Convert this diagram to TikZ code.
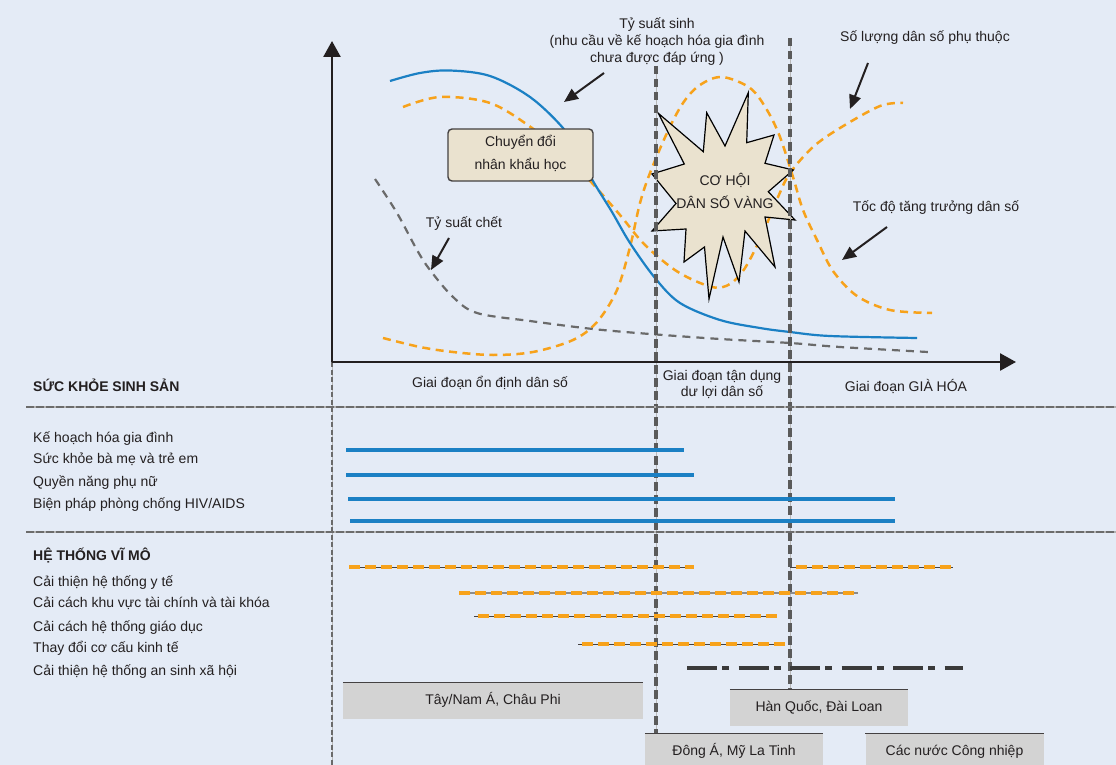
\documentclass[tikz,border=0pt]{standalone}
\usepackage{fontspec}
\setmainfont{Liberation Sans}
\usetikzlibrary{arrows.meta}
\definecolor{bgc}{HTML}{E4EBF6}
\definecolor{txtc}{HTML}{231F20}
\definecolor{bluec}{HTML}{1B80C4}
\definecolor{orangec}{HTML}{F7A21B}
\definecolor{beigec}{HTML}{EAE2CF}
\definecolor{boxgrayc}{HTML}{D3D3D3}
\definecolor{vdarkc}{HTML}{5A5A5A}
\definecolor{deathc}{HTML}{6A6A6A}
\definecolor{dashdotc}{HTML}{3A3A3A}
\begin{document}
\begin{tikzpicture}[x=1pt,y=-1pt,
  font=\fontsize{14}{17}\selectfont,
  lbl/.style={text=txtc, inner sep=0pt, text height=10pt, text depth=3pt},
  leftlbl/.style={lbl, anchor=west},
  boldlbl/.style={lbl, anchor=west, font=\fontsize{14}{17}\selectfont\bfseries},
  axisline/.style={draw=txtc, line width=2.6pt, -{Triangle[length=16pt,width=17pt]}},
  pointer/.style={draw=txtc, line width=2pt, -{Triangle[length=14pt,width=12pt]}},
  bluecurve/.style={draw=bluec, line width=2.2pt},
  orangecurve/.style={draw=orangec, line width=2.5pt, dash pattern=on 8pt off 5.5pt},
  deathcurve/.style={draw=deathc, line width=2.2pt, dash pattern=on 8pt off 6pt},
  vbase/.style={draw=gray!55, line width=1pt},
  vdash/.style={draw=vdarkc, line width=4pt, dash pattern=on 8.5pt off 4.5pt},
  vdashthin/.style={draw=deathc, line width=2.6pt, dash pattern=on 5pt off 2.5pt},
  hsep/.style={draw=gray!60, line width=2pt},
  hsepdash/.style={draw=gray!85!black, line width=1.2pt, dash pattern=on 8pt off 2pt},
  bluebar/.style={draw=bluec, line width=3.2pt},
  orangebar/.style={draw=orangec, line width=4pt, dash pattern=on 11pt off 5pt},
  barbase/.style={draw=txtc!85, line width=1pt},
  barbasegray/.style={draw=gray!90, line width=2.2pt},
  dashdotbar/.style={draw=dashdotc, line width=4.5pt, dash pattern=on 30pt off 5pt on 7pt off 9.5pt},
  graybox/.style={fill=boxgrayc, inner sep=0pt, text=txtc, text height=10pt, text depth=3pt},
  beigebox/.style={fill=beigec, draw=txtc!85, line width=1.4pt, rounded corners=4pt, inner sep=0pt}
]
\fill[bgc] (0,0) rectangle (1116,765);
\useasboundingbox (0,0) rectangle (1116,765);

% ---------- curves ----------
\draw[orangecurve] plot[smooth, tension=0.55] coordinates {(383,338) (420,347) (453,352) (493,355) (533,352) (573,340) (597,322) (617,290) (630,247) (640,203) (650,173) (667,133) (683,103) (700,85) (722,77) (750,88) (767,110) (780,137) (793,177) (803,210) (817,240) (833,271) (857,296) (890,310) (932,313)};
\draw[orangecurve] plot[smooth, tension=0.55] coordinates {(403,107) (440,97) (490,103) (532,128) (565,155) (592,183) (620,215) (645,245) (678,272) (712,287) (730,284) (745,268) (762,235) (778,197) (790,173) (813,147) (840,128) (880,106) (903,103)};
\draw[deathcurve] plot[smooth, tension=0.55] coordinates {(375,179) (397,213) (417,250) (430,270) (453,297) (477,313) (530,321) (593,329) (650,334) (720,339) (790,343) (840,347) (928,352)};
\draw[bluecurve] plot[smooth, tension=0.55] coordinates {(390,81) (420,73) (450,70.5) (490,76) (530,97) (563,128) (580,155) (593,181) (612,212) (630,243) (655,278) (680,303) (720,320) (760,328) (790,332) (830,336) (917,338)};

% ---------- box and star ----------
\node[beigebox, minimum width=145pt, minimum height=52pt] (demobox) at (520.5,155) {};
\node[lbl] (demo1) at (520.5,143) {Chuyển đổi};
\node[lbl] (demo2) at (520.5,166) {nhân khẩu học};

\filldraw[fill=beigec, draw=black, line width=1.2pt, line join=miter]
 (658.3,113.3) -- (703.3,151.7) -- (706.7,112.7) -- (725,146) -- (748.3,92.7) -- (746.7,142.7)
 -- (774,135) -- (765,163.3) -- (793.3,170) -- (768.3,191.7) -- (795,220) -- (765,217)
 -- (775,267) -- (745,231) -- (739,282) -- (723,237) -- (709,299) -- (704.5,247)
 -- (684,262) -- (686,229) -- (652,231) -- (676,203.5) -- (652,174) -- (684.3,164) -- cycle;
\node[lbl] (gold1) at (725,182) {CƠ HỘI};
\node[lbl] (gold2) at (725,205) {DÂN SỐ VÀNG};

% ---------- vertical dashed lines ----------
\coordinate (v1t) at (656,66); \coordinate (v1b) at (656,734);
\coordinate (v2t) at (790,38); \coordinate (v2b) at (790,690);
\coordinate (v0t) at (332,362); \coordinate (v0b) at (332,765);
\draw[vbase] (v1t) -- (v1b);
\draw[vdash] (v1t) -- (v1b);
\draw[vbase] (v2t) -- (v2b);
\draw[vdash] (v2t) -- (v2b);
\draw[vbase] (v0t) -- (v0b);
\draw[vdashthin] (v0t) -- (v0b);

% ---------- axes ----------
\coordinate (origin) at (332,362);
\coordinate (ytop) at (332,41);
\coordinate (xend) at (1016,362);
\draw[axisline] (origin) -- (ytop);
\draw[axisline] (origin) -- (xend);

% ---------- chart labels and pointers ----------
\node[lbl] (birth1) at (657,25) {Tỷ suất sinh};
\node[lbl] (birth2) at (657,42) {(nhu cầu về kế hoạch hóa gia đình};
\node[lbl] (birth3) at (657,59) {chưa được đáp ứng )};
\node[lbl] (dep) at (925,38) {Số lượng dân số phụ thuộc};
\node[lbl] (growth) at (936,208) {Tốc độ tăng trưởng dân số};
\node[lbl] (death) at (464,224) {Tỷ suất chết};

\coordinate (aS1) at (604,73); \coordinate (aS2) at (564,102);
\coordinate (aP1) at (868,63); \coordinate (aP2) at (850,109);
\coordinate (aT1) at (887,227); \coordinate (aT2) at (842,260);
\coordinate (aC1) at (449,238); \coordinate (aC2) at (431,270);
\draw[pointer] (aS1) -- (aS2);
\draw[pointer] (aP1) -- (aP2);
\draw[pointer] (aT1) -- (aT2);
\draw[pointer] (aC1) -- (aC2);

% ---------- phase labels ----------
\node[lbl] (ph1) at (490,384) {Giai đoạn ổn định dân số};
\node[lbl] (ph2a) at (722,377) {Giai đoạn tận dụng};
\node[lbl] (ph2b) at (722,393) {dư lợi dân số};
\node[lbl] (ph3) at (906,388) {Giai đoạn GIÀ HÓA};

% ---------- separators ----------
\coordinate (s1a) at (26,407); \coordinate (s1b) at (1116,407);
\coordinate (s2a) at (26,532); \coordinate (s2b) at (1116,532);
\draw[hsep] (s1a) -- (s1b);
\draw[hsepdash] (s1a) -- (s1b);
\draw[hsep] (s2a) -- (s2b);
\draw[hsepdash] (s2a) -- (s2b);

% ---------- reproductive health ----------
\node[boldlbl] (rh) at (33,388) {SỨC KHỎE SINH SẢN};
\node[leftlbl] (rh1) at (33,439) {Kế hoạch hóa gia đình};
\node[leftlbl] (rh2) at (33,460) {Sức khỏe bà mẹ và trẻ em};
\node[leftlbl] (rh3) at (33,483) {Quyền năng phụ nữ};
\node[leftlbl] (rh4) at (33,505) {Biện pháp phòng chống HIV/AIDS};

\coordinate (b1a) at (346,450); \coordinate (b1b) at (684,450);
\coordinate (b2a) at (346,475); \coordinate (b2b) at (694,475);
\coordinate (b3a) at (348,499); \coordinate (b3b) at (895,499);
\coordinate (b4a) at (350,521); \coordinate (b4b) at (895,521);
\draw[bluebar] (b1a) -- (b1b);
\draw[bluebar] (b2a) -- (b2b);
\draw[bluebar] (b3a) -- (b3b);
\draw[bluebar] (b4a) -- (b4b);

% ---------- macro system ----------
\node[boldlbl] (ms) at (33,557) {HỆ THỐNG VĨ MÔ};
\node[leftlbl] (ms1) at (33,583) {Cải thiện hệ thống y tế};
\node[leftlbl] (ms2) at (33,604) {Cải cách khu vực tài chính và tài khóa};
\node[leftlbl] (ms3) at (33,628) {Cải cách hệ thống giáo dục};
\node[leftlbl] (ms4) at (33,649) {Thay đổi cơ cấu kinh tế};
\node[leftlbl] (ms5) at (33,672) {Cải thiện hệ thống an sinh xã hội};

\coordinate (o1a) at (349,567); \coordinate (o1b) at (694,567);
\coordinate (o1c) at (790,567); \coordinate (o1d) at (796,567); \coordinate (o1e) at (953,567);
\coordinate (o2a) at (459,593); \coordinate (o2b) at (858,593);
\coordinate (o3a) at (474,616); \coordinate (o3b) at (777,616);
\coordinate (o4a) at (578,644); \coordinate (o4b) at (785,644);
\coordinate (o5a) at (687,668); \coordinate (o5b) at (963,668);
\draw[barbase] (o1a) -- (o1b);
\draw[orangebar] (o1a) -- (o1b);
\draw[barbase] (o1c) -- (o1e);
\draw[orangebar] (o1d) -- (o1e);
\draw[barbasegray] (o2a) -- (o2b);
\draw[orangebar] (o2a) -- (o2b);
\draw[barbase] (o3a) -- (o3b);
\draw[orangebar] ([xshift=4pt]o3a) -- (o3b);
\draw[barbase] (o4a) -- (o4b);
\draw[orangebar] ([xshift=4pt]o4a) -- (o4b);
\draw[dashdotbar] (o5a) -- (o5b);

% ---------- region boxes ----------
\node[graybox, minimum width=300pt, minimum height=36pt] (r1) at (493,701) {Tây/Nam Á, Châu Phi};
\node[graybox, minimum width=178pt, minimum height=36pt] (r2) at (819,708) {Hàn Quốc, Đài Loan};
\node[graybox, minimum width=178pt, minimum height=36pt] (r3) at (734,752) {Đông Á, Mỹ La Tinh};
\node[graybox, minimum width=178pt, minimum height=36pt] (r4) at (954.5,752) {Các nước Công nhiệp};
\foreach \b in {r1,r2,r3,r4} {\draw[txtc!85, line width=1pt] (\b.north west) -- (\b.north east);}
\end{tikzpicture}
\end{document}
